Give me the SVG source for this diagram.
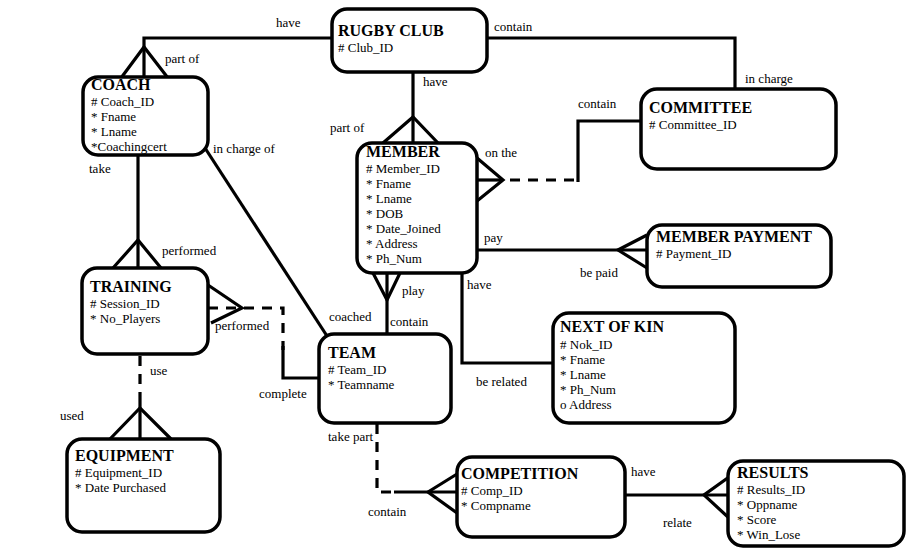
<svg xmlns="http://www.w3.org/2000/svg" width="919" height="554" viewBox="0 0 919 554">
<style>
.box{fill:#fff;stroke:#000;stroke-width:3.5}
.ln{fill:none;stroke:#000;stroke-width:3.2}
.dash{fill:none;stroke:#000;stroke-width:3.2;stroke-dasharray:10 8}
text{font-family:"Liberation Serif","Times New Roman",serif;font-size:13px;fill:#000}
.t{font-size:16px;font-weight:bold}
</style>
<rect width="919" height="554" fill="#fff"/>
<g id="connectors">
  <!-- RUGBY CLUB - COACH -->
  <polyline class="ln" points="332,38 144,38 144,77"/>
  <polyline class="ln" points="121,78 144,47 168,78"/>
  <!-- RUGBY CLUB - COMMITTEE -->
  <polyline class="ln" points="487,38 735,38 735,89"/>
  <!-- RUGBY CLUB - MEMBER -->
  <line class="ln" x1="413" y1="72" x2="413" y2="143"/>
  <polyline class="ln" points="383,143 413,117 438,143"/>
  <!-- COACH - TRAINING -->
  <line class="ln" x1="138" y1="155" x2="138" y2="268"/>
  <polyline class="ln" points="113,268 138,240 161,268"/>
  <!-- COACH - TEAM -->
  <line class="ln" x1="205" y1="148" x2="327" y2="336"/>
  <!-- TRAINING - TEAM -->
  <polyline class="ln" points="208,285 242,308 211,323"/>
  <polyline class="dash" points="208,308 283,308 283,350"/>
  <polyline class="ln" points="283,346 283,378 320,378"/>
  <!-- TRAINING - EQUIPMENT -->
  <line class="dash" x1="140" y1="356" x2="140" y2="408"/>
  <line class="ln" x1="140" y1="402" x2="140" y2="439"/>
  <polyline class="ln" points="110,439 140,408 171,439"/>
  <!-- MEMBER - TEAM -->
  <line class="ln" x1="387" y1="273" x2="387" y2="334"/>
  <polyline class="ln" points="373,273 387,300 400,273"/>
  <!-- MEMBER - NEXT OF KIN -->
  <polyline class="ln" points="462,273 462,363 553,363"/>
  <!-- MEMBER - MEMBER PAYMENT -->
  <line class="ln" x1="477" y1="250" x2="647" y2="250"/>
  <polyline class="ln" points="647,235 618,250 647,268"/>
  <!-- MEMBER - COMMITTEE -->
  <polyline class="ln" points="477,158 503,180 477,201"/>
  <line class="ln" x1="477" y1="180" x2="503" y2="180"/>
  <line class="dash" x1="510" y1="180" x2="578" y2="180"/>
  <polyline class="ln" points="578,182 578,121 641,121"/>
  <!-- TEAM - COMPETITION -->
  <polyline class="dash" points="377,424 377,492 392,492"/>
  <line class="ln" x1="394" y1="492" x2="457" y2="492"/>
  <polyline class="ln" points="457,474 428,492 457,513"/>
  <!-- COMPETITION - RESULTS -->
  <line class="ln" x1="625" y1="495" x2="729" y2="495"/>
  <polyline class="ln" points="729,477 704,495 729,518"/>
</g>
<g id="labels">
  <text x="276" y="27">have</text>
  <text x="165" y="63">part of</text>
  <text x="494" y="31">contain</text>
  <text x="745" y="83">in charge</text>
  <text x="423" y="86">have</text>
  <text x="330" y="132">part of</text>
  <text x="213" y="153">in charge of</text>
  <text x="89" y="173">take</text>
  <text x="162" y="255">performed</text>
  <text x="215" y="330">performed</text>
  <text x="329" y="321">coached</text>
  <text x="259" y="398">complete</text>
  <text x="402" y="295">play</text>
  <text x="390" y="326">contain</text>
  <text x="467" y="289">have</text>
  <text x="476" y="386">be related</text>
  <text x="484" y="242">pay</text>
  <text x="580" y="277">be paid</text>
  <text x="485" y="157">on the</text>
  <text x="578" y="108">contain</text>
  <text x="150" y="375">use</text>
  <text x="60" y="420">used</text>
  <text x="328" y="441">take part</text>
  <text x="368" y="516">contain</text>
  <text x="631" y="476">have</text>
  <text x="663" y="527">relate</text>
</g>
<g id="rugby-club">
  <rect class="box" x="332" y="9" width="155" height="63" rx="15"/>
  <text class="t" x="338" y="36">RUGBY CLUB</text>
  <text x="338" y="52"># Club_ID</text>
</g>
<g id="coach">
  <rect class="box" x="83" y="77" width="125" height="78" rx="15"/>
  <text class="t" x="91" y="90">COACH</text>
  <text x="91" y="106"># Coach_ID</text>
  <text x="91" y="121">* Fname</text>
  <text x="91" y="136">* Lname</text>
  <text x="91" y="151">*Coachingcert</text>
</g>
<g id="committee">
  <rect class="box" x="641" y="89" width="195" height="80" rx="16"/>
  <text class="t" x="649" y="113">COMMITTEE</text>
  <text x="649" y="129"># Committee_ID</text>
</g>
<g id="member">
  <rect class="box" x="357" y="143" width="120" height="130" rx="15"/>
  <text class="t" x="366" y="157">MEMBER</text>
  <text x="366" y="173"># Member_ID</text>
  <text x="366" y="188">* Fname</text>
  <text x="366" y="203">* Lname</text>
  <text x="366" y="218">* DOB</text>
  <text x="366" y="233">* Date_Joined</text>
  <text x="366" y="248">* Address</text>
  <text x="366" y="263">* Ph_Num</text>
</g>
<g id="member-payment">
  <rect class="box" x="647" y="225" width="184" height="62" rx="15"/>
  <text class="t" x="656" y="242">MEMBER PAYMENT</text>
  <text x="656" y="258"># Payment_ID</text>
</g>
<g id="training">
  <rect class="box" x="82" y="268" width="126" height="86" rx="15"/>
  <text class="t" x="90" y="292">TRAINING</text>
  <text x="90" y="308"># Session_ID</text>
  <text x="90" y="323">* No_Players</text>
</g>
<g id="next-of-kin">
  <rect class="box" x="553" y="313" width="182" height="110" rx="16"/>
  <text class="t" x="560" y="332">NEXT OF KIN</text>
  <text x="560" y="349"># Nok_ID</text>
  <text x="560" y="364">* Fname</text>
  <text x="560" y="379">* Lname</text>
  <text x="560" y="394">* Ph_Num</text>
  <text x="560" y="409">o Address</text>
</g>
<g id="team">
  <rect class="box" x="319" y="334" width="132" height="89" rx="15"/>
  <text class="t" x="328" y="358">TEAM</text>
  <text x="328" y="374"># Team_ID</text>
  <text x="328" y="389">* Teamname</text>
</g>
<g id="equipment">
  <rect class="box" x="67" y="439" width="153" height="93" rx="15"/>
  <text class="t" x="75" y="461">EQUIPMENT</text>
  <text x="75" y="477"># Equipment_ID</text>
  <text x="75" y="492">* Date Purchased</text>
</g>
<g id="competition">
  <rect class="box" x="457" y="457" width="168" height="80" rx="15"/>
  <text class="t" x="461" y="479">COMPETITION</text>
  <text x="461" y="495"># Comp_ID</text>
  <text x="461" y="510">* Compname</text>
</g>
<g id="results">
  <rect class="box" x="728" y="461" width="176" height="85" rx="15"/>
  <text class="t" x="737" y="478">RESULTS</text>
  <text x="737" y="494"># Results_ID</text>
  <text x="737" y="509">* Oppname</text>
  <text x="737" y="524">* Score</text>
  <text x="737" y="539">* Win_Lose</text>
</g>
</svg>
